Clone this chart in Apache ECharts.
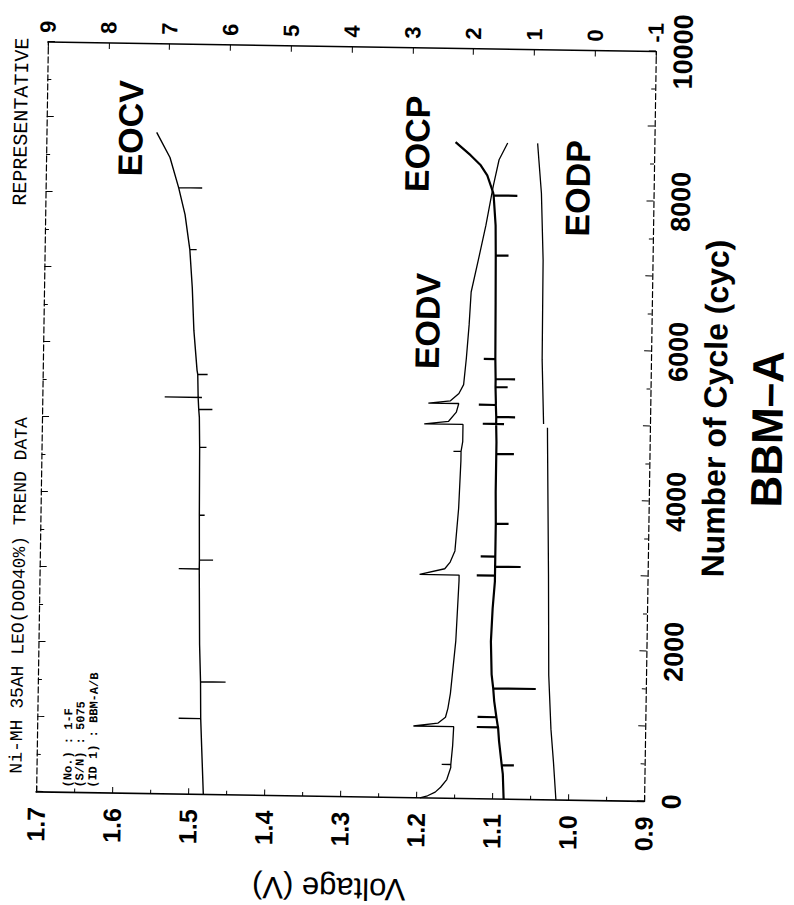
<!DOCTYPE html>
<html><head><meta charset="utf-8">
<script src="https://cdn.jsdelivr.net/npm/echarts@6/dist/echarts.min.js"></script>
<style>
html,body{margin:0;padding:0;width:794px;height:905px;overflow:hidden;background:#fff;}
#chart{position:absolute;left:-55.5px;top:55.5px;width:905px;height:794px;transform:rotate(-89.1deg);transform-origin:50% 50%;}
</style></head><body><div id="chart"></div>
<script>
// ---- data (cycle number, value) ----
const cycleTicks = [0, 2000, 4000, 6000, 8000, 10000];
const voltageTicks = [0.9, 1.0, 1.1, 1.2, 1.3, 1.4, 1.5, 1.6, 1.7];
const pressureTicks = [-1, 0, 1, 2, 3, 4, 5, 6, 7, 8, 9];

const eocvCycles = [0, 600, 1011, 1011, 1011, 1503, 1503, 1503, 2000, 3006, 3006, 3006, 3126, 3126, 3126, 3724, 3724, 3724, 4628, 4628, 4628, 5027, 5134, 5134, 5134, 5293, 5293, 5293, 5293, 5600, 5600, 5600, 5653, 6185, 6756, 7262, 7262, 7262, 7328, 7727, 8086, 8086, 8086, 8485, 8818];
const eocvValues = [1.480, 1.483, 1.485, 1.514, 1.485, 1.486, 1.453, 1.486, 1.488, 1.490, 1.517, 1.490, 1.490, 1.472, 1.490, 1.491, 1.484, 1.491, 1.492, 1.483, 1.492, 1.493, 1.494, 1.476, 1.494, 1.495, 1.539, 1.490, 1.495, 1.496, 1.483, 1.496, 1.497, 1.502, 1.505, 1.509, 1.500, 1.509, 1.510, 1.516, 1.525, 1.494, 1.525, 1.537, 1.555];

const eodvCycles = [0, 30, 80, 146, 250, 412, 452, 452, 452, 700, 957, 957, 1000, 1080, 1200, 1400, 2100, 2900, 2979, 2979, 3060, 3150, 3300, 3870, 4500, 4628, 4628, 4628, 4760, 4988, 4988, 5027, 5150, 5266, 5266, 5300, 5400, 5519, 5864, 6316, 6755, 7194, 7646, 8178, 8524, 8750];
const eodvValues = [1.195, 1.185, 1.175, 1.168, 1.160, 1.155, 1.155, 1.167, 1.155, 1.153, 1.152, 1.205, 1.173, 1.163, 1.160, 1.157, 1.151, 1.148, 1.148, 1.200, 1.167, 1.160, 1.154, 1.150, 1.148, 1.148, 1.158, 1.148, 1.146, 1.146, 1.197, 1.165, 1.155, 1.152, 1.192, 1.163, 1.152, 1.146, 1.143, 1.140, 1.138, 1.129, 1.120, 1.111, 1.104, 1.093];

const eocpCycles = [0, 333, 452, 452, 452, 771, 957, 957, 957, 997, 1091, 1091, 1091, 1303, 1476, 1476, 1476, 1663, 2101, 2540, 2899, 2979, 2979, 2979, 3099, 3099, 3099, 3232, 3232, 3232, 3431, 3671, 3671, 3671, 4096, 4602, 4602, 4602, 4761, 5001, 5001, 5001, 5001, 5094, 5094, 5094, 5254, 5254, 5254, 5293, 5493, 5493, 5493, 5600, 5600, 5600, 5866, 5866, 5866, 6623, 7249, 7249, 7249, 7648, 8047, 8047, 8047, 8086, 8313, 8446, 8579, 8751];
const eocpValues = [1.31, 1.33, 1.35, 1.15, 1.35, 1.40, 1.42, 1.77, 1.42, 1.43, 1.45, 1.76, 1.45, 1.49, 1.51, 0.81, 1.51, 1.54, 1.56, 1.54, 1.51, 1.51, 1.81, 1.51, 1.51, 1.09, 1.51, 1.51, 1.75, 1.51, 1.51, 1.51, 1.30, 1.51, 1.52, 1.52, 1.23, 1.52, 1.52, 1.53, 1.75, 1.40, 1.53, 1.53, 1.22, 1.53, 1.54, 1.82, 1.54, 1.54, 1.55, 1.35, 1.55, 1.55, 1.23, 1.55, 1.56, 1.75, 1.56, 1.57, 1.58, 1.37, 1.58, 1.59, 1.63, 1.24, 1.63, 1.64, 1.74, 1.85, 2.02, 2.27];

const eodpCycles = [0, 505, 944, 1663, 2993, 4761, 4960, 4985, 5010, 5865, 7195, 8086, 8525, 8750];
const eodpValues = [0.45, 0.50, 0.55, 0.60, 0.63, 0.68, 0.685, null, 0.75, 0.79, 0.80, 0.845, 0.895, 0.92];

const pairs = (xs, ys) => xs.map((c, i) => [c, ys[i]]);

const FONT = '"Liberation Sans", Arial, sans-serif';
const MONO = '"Liberation Mono", "DejaVu Sans Mono", monospace';

function txt(x, y, text, font, rotation, align) {
  const a = align || 'center';
  return {
    type: 'text', x: x, y: y, rotation: rotation || 0, silent: true,
    style: { text: text, font: font, fill: '#000', align: a, verticalAlign: 'middle', textAlign: a, textVerticalAlign: 'middle' }
  };
}

const chart = echarts.init(document.getElementById('chart'), null, { renderer: 'svg', width: 905, height: 794 });

const lineAxisTick = { show: true, inside: true, length: 7, lineStyle: { color: '#000', width: 1 } };
const lineMinorTick = { show: true, splitNumber: 2, length: 4, lineStyle: { color: '#000', width: 1 } };

chart.setOption({
  animation: false,
  backgroundColor: '#fff',
  grid: { left: 108, right: 47, top: 41, bottom: 145, containLabel: false },
  xAxis: [
    {
      type: 'value', position: 'bottom', min: 0, max: 10000, interval: 1000,
      axisLine: { show: true, onZero: false, lineStyle: { color: '#000', width: 1.2, type: [6, 3] } },
      axisTick: lineAxisTick, minorTick: lineMinorTick, splitLine: { show: false },
      axisLabel: {
        formatter: v => (cycleTicks.indexOf(v) >= 0 ? String(v) : ''),
        fontSize: 27, fontWeight: 'bold', color: '#000', fontFamily: FONT, margin: 14
      }
    },
    {
      type: 'value', position: 'top', min: 0, max: 10000, interval: 1000,
      axisLine: { show: true, onZero: false, lineStyle: { color: '#000', width: 1.2, type: [6, 3] } },
      axisTick: lineAxisTick, minorTick: lineMinorTick, splitLine: { show: false },
      axisLabel: { show: false }
    }
  ],
  yAxis: [
    {
      type: 'value', position: 'left', min: 0.9, max: 1.7, interval: 0.1,
      axisLine: { show: true, onZero: false, lineStyle: { color: '#000', width: 1.6 } },
      axisTick: { show: true, inside: true, length: 6, lineStyle: { color: '#000' } },
      minorTick: { show: true, splitNumber: 2, length: 4, lineStyle: { color: '#000' } },
      splitLine: { show: false },
      axisLabel: { formatter: v => Number(v).toFixed(1), fontSize: 25, fontWeight: 'bold', color: '#000', fontFamily: FONT, margin: 15 }
    },
    {
      type: 'value', position: 'right', min: -1, max: 9, interval: 1,
      axisLine: { show: true, onZero: false, lineStyle: { color: '#000', width: 1.6 } },
      axisTick: { show: true, inside: true, length: 6, lineStyle: { color: '#000' } },
      splitLine: { show: false },
      axisLabel: { formatter: v => String(v), fontSize: 22, fontWeight: 'bold', color: '#000', fontFamily: FONT, margin: 9 }
    }
  ],
  series: [
    { name: 'EOCV', type: 'line', xAxisIndex: 0, yAxisIndex: 0, data: pairs(eocvCycles, eocvValues), symbol: 'none', lineStyle: { color: '#000', width: 1.4 } },
    { name: 'EODV', type: 'line', xAxisIndex: 0, yAxisIndex: 0, data: pairs(eodvCycles, eodvValues), symbol: 'none', lineStyle: { color: '#000', width: 1.3 } },
    { name: 'EOCP', type: 'line', xAxisIndex: 0, yAxisIndex: 1, data: pairs(eocpCycles, eocpValues), symbol: 'none', lineStyle: { color: '#000', width: 2.2 } },
    { name: 'EODP', type: 'line', xAxisIndex: 0, yAxisIndex: 1, data: pairs(eodpCycles, eodpValues), symbol: 'none', connectNulls: false, lineStyle: { color: '#000', width: 1.3 } }
  ],
  graphic: [
    txt(773, 125, 'EOCV', 'bold 34px ' + FONT),
    txt(585, 425, 'EODV', 'bold 34px ' + FONT),
    txt(762, 412, 'EOCP', 'bold 34px ' + FONT),
    txt(720, 573, 'EODP', 'bold 34px ' + FONT),
    txt(502, 714, 'Number of Cycle (cyc)', 'bold 32px ' + FONT),
    txt(482, 766, 'BBM\u2013A', 'bold 44px ' + FONT),
    txt(16, 335, 'Voltage (V)', '31px ' + FONT, Math.PI / 2),
    txt(126, 21, 'Ni-MH 35AH LEO(DOD40%) TREND DATA', '18px ' + MONO, 0, 'left'),
    txt(862, 16, 'REPRESENTATIVE', '20px ' + MONO, 0, 'right'),
    txt(113, 73, '(No.) : 1-F', 'bold 12px ' + MONO, 0, 'left'),
    txt(113, 85, '(S/N) : 5075', 'bold 12px ' + MONO, 0, 'left'),
    txt(113, 98, '(ID 1) : BBM-A/B', 'bold 12px ' + MONO, 0, 'left')
  ]
});
</script>
</body></html>
